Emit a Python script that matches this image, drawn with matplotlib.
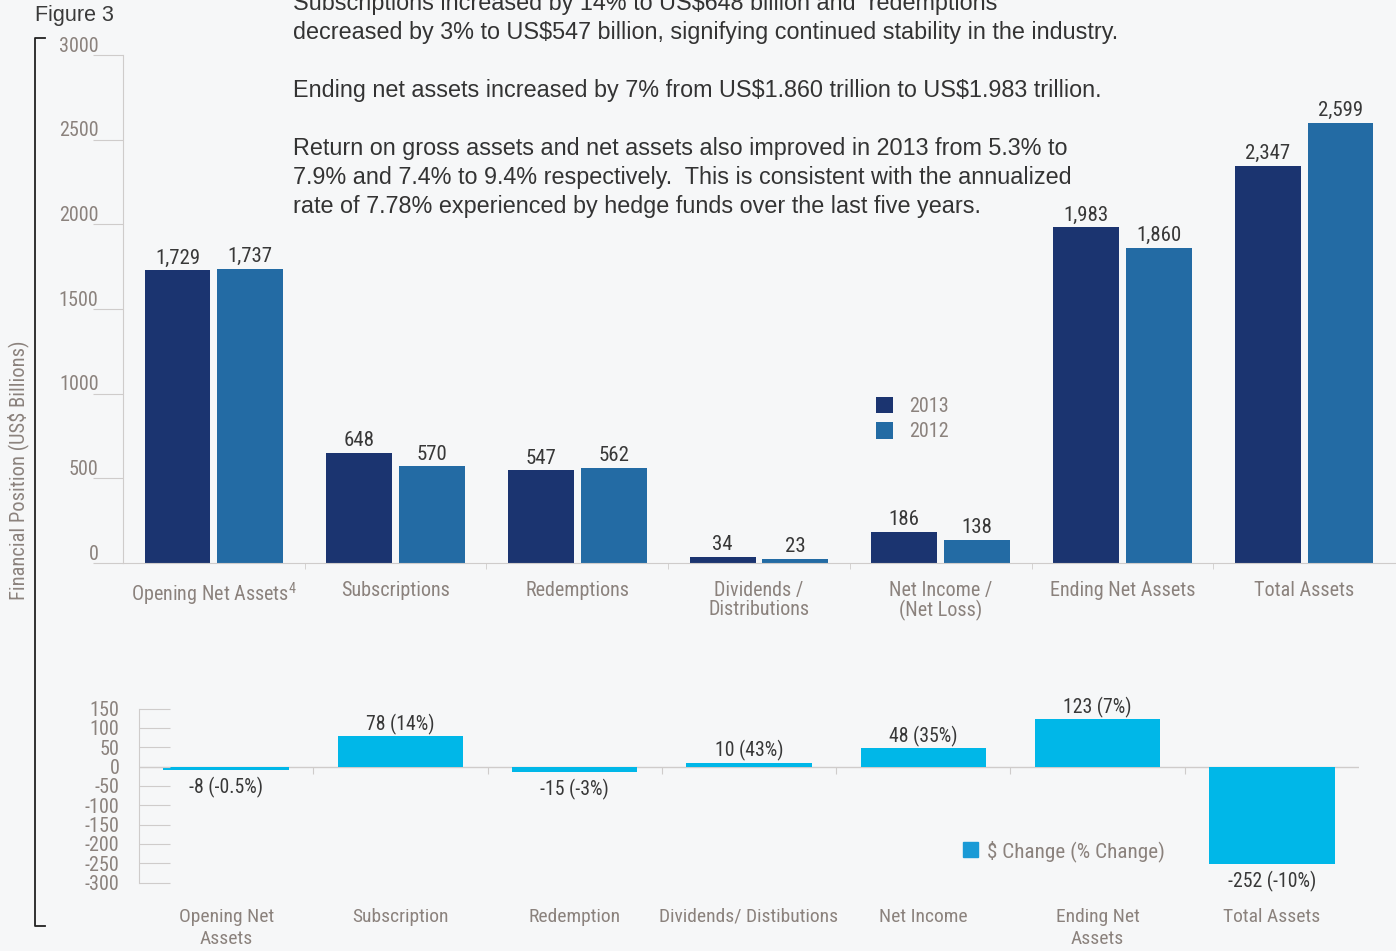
import numpy as np
import matplotlib
matplotlib.use("Agg")
import matplotlib.pyplot as plt
from matplotlib import font_manager as fm
from matplotlib.lines import Line2D
from matplotlib.patches import Patch
from matplotlib.transforms import ScaledTranslation, blended_transform_factory

# --- data -------------------------------------------------------------
cats_top = ['Opening Net Assets$^{4}$', 'Subscriptions', 'Redemptions',
            'Dividends /\nDistributions', 'Net Income /\n(Net Loss)',
            'Ending Net Assets', 'Total Assets']
v2013 = [1729, 648, 547, 34, 186, 1983, 2347]
v2012 = [1737, 570, 562, 23, 138, 1860, 2599]

cats_bot = ['Opening Net\nAssets', 'Subscription', 'Redemption',
            'Dividends/ Distibutions', 'Net Income', 'Ending Net\nAssets',
            'Total Assets']
change = [-8, 78, -15, 10, 48, 123, -252]
pct = ['-0.5%', '14%', '-3%', '43%', '35%', '7%', '-10%']

top_ticks = [0, 500, 1000, 1500, 2000, 2500, 3000]
bot_ticks = [150, 100, 50, 0, -50, -100, -150, -200, -250, -300]

notes = ["Subscriptions increased by 14% to US$648 billion and  redemptions",
         "decreased by 3% to US$547 billion, signifying continued stability in the industry.",
         "",
         "Ending net assets increased by 7% from US$1.860 trillion to US$1.983 trillion.",
         "",
         "Return on gross assets and net assets also improved in 2013 from 5.3% to",
         "7.9% and 7.4% to 9.4% respectively.  This is consistent with the annualized",
         "rate of 7.78% experienced by hedge funds over the last five years."]


# --- pick a narrow font if one is installed ---------------------------
def pick_narrow():
    fonts = fm.fontManager.ttflist
    names = {f.name for f in fonts}
    for nm in ['Roboto Condensed', 'Liberation Sans Narrow', 'Noto Sans Condensed',
               'Open Sans Condensed', 'DejaVu Sans Condensed']:
        if nm in names:
            return nm, 'normal'
    for base in ['Noto Sans', 'DejaVu Sans', 'Roboto', 'Open Sans']:
        for f in fonts:
            if f.name == base and f.stretch == 'condensed':
                return base, 'condensed'
    return 'Roboto', 'normal'


NARROW, STRETCH = pick_narrow()
plt.rcParams['font.family'] = [NARROW, 'DejaVu Sans']
plt.rcParams['font.stretch'] = STRETCH
plt.rcParams['mathtext.fontset'] = 'custom'
plt.rcParams['mathtext.rm'] = NARROW
plt.rcParams['mathtext.default'] = 'regular'
plt.rcParams['axes.unicode_minus'] = False

BG = '#f6f7f8'
DARK = '#1b3470'
MID = '#236ba4'
CYAN = '#00b7e8'
GRAY = '#8b827d'
TXT = '#383838'
GRID = '#cfcccb'

W, H = 1396, 951
fig = plt.figure(figsize=(W / 100, H / 100), dpi=100)
fig.patch.set_facecolor(BG)


def fx(px):
    return px / W


def fy(py):
    return 1 - py / H


# --- top chart --------------------------------------------------------
ax = fig.add_axes([fx(123), fy(563), fx(1395) - fx(123), fy(55) - fy(563)])
ax.set_facecolor('none')
x = np.arange(len(cats_top))
bw = 0.363
b1 = ax.bar(x - 0.2, v2013, bw, color=DARK, label='2013')
b2 = ax.bar(x + 0.2, v2012, bw, color=MID, label='2012')
for bars in (b1, b2):
    for r in bars:
        ax.annotate(f'{int(r.get_height()):,}', (r.get_x() + r.get_width() / 2, r.get_height()),
                    xytext=(0, 2), textcoords='offset points', ha='center', va='bottom',
                    fontsize=15, color=TXT)
ax.set_xlim(-0.5, len(cats_top) - 0.5)
ax.set_ylim(0, 3000)
ax.set_yticks(top_ticks)
ax.tick_params(axis='y', length=30 * 0.72, width=0.8, color=GRID, pad=-4,
               labelsize=14.5, labelcolor=GRAY)
for lab in ax.get_yticklabels():
    lab.set_transform(lab.get_transform() + ScaledTranslation(0, 0.11, fig.dpi_scale_trans))
ax.set_xticks(x)
ax.set_xticklabels(cats_top, fontsize=14.5, color=GRAY, linespacing=1.0)
ax.set_xticks(x[:-1] + 0.5, minor=True)
ax.tick_params(axis='x', which='major', length=0, pad=13)
ax.tick_params(axis='x', which='minor', length=4, color=GRID)
for s in ['top', 'right']:
    ax.spines[s].set_visible(False)
ax.spines['left'].set_color(GRID)
ax.spines['bottom'].set_color(GRID)
ax.legend(loc='upper left', bbox_to_anchor=(fx(876), fy(397)), bbox_transform=fig.transFigure,
          frameon=False, fontsize=14.5, labelcolor=GRAY, handlelength=0.85, handleheight=0.85,
          handletextpad=0.8, labelspacing=0.32, borderpad=0, borderaxespad=0)

# --- bottom chart -----------------------------------------------------
ax2 = fig.add_axes([fx(139), fy(882.7), fx(1359) - fx(139), fy(708.5) - fy(882.7)])
ax2.set_facecolor('none')
xb = np.arange(len(cats_bot))
bars = ax2.bar(xb, change, 0.72, color=CYAN)
for r, c, p in zip(bars, change, pct):
    off = 1 if c > 0 else -5
    ax2.annotate(f'{c} ({p})', (r.get_x() + r.get_width() / 2, c), xytext=(0, off),
                 textcoords='offset points', ha='center', va='bottom' if c > 0 else 'top',
                 fontsize=14.2, color=TXT)
ax2.set_xlim(-0.5, len(cats_bot) - 0.5)
ax2.set_ylim(-300, 150)
ax2.set_yticks(bot_ticks)
ax2.tick_params(axis='y', direction='in', length=31 * 0.72, width=0.8, color=GRID,
                pad=14, labelsize=14.5, labelcolor=GRAY)
ax2.axhline(0, color=GRID, lw=1, zorder=0)
for s in ['top', 'right']:
    ax2.spines[s].set_visible(False)
ax2.spines['left'].set_color(GRID)
ax2.spines['bottom'].set_position(('data', 0))
ax2.spines['bottom'].set_visible(False)
ax2.set_xticks(xb[:-1] + 0.5)
ax2.set_xticklabels([])
ax2.tick_params(axis='x', length=5, color=GRID)
tr = blended_transform_factory(ax2.transData, ax2.transAxes)
for xi, c in zip(xb, cats_bot):
    ax2.text(xi, -0.145, c, transform=tr, ha='center', va='top', fontsize=14,
             color=GRAY, linespacing=1.3)
ax2.legend(handles=[Patch(color='#1a9ad6', label='$ Change (% Change)')], loc='upper left',
           bbox_to_anchor=(fx(963), fy(840)), bbox_transform=fig.transFigure,
           frameon=False, fontsize=15.2, labelcolor=GRAY, handlelength=0.7, handleheight=0.7,
           handletextpad=0.45, borderpad=0, borderaxespad=0)

# --- decorations ------------------------------------------------------
fig.text(fx(18), fy(470), 'Financial Position (US$ Billions)', rotation=90,
         ha='center', va='center', fontsize=14.8, color=GRAY)
fig.text(fx(35), fy(15), 'Figure 3', family=['Liberation Sans', 'DejaVu Sans'],
         fontsize=15.5, color='#3a3a3a', ha='left', va='center', fontstretch='normal')
fig.add_artist(Line2D([fx(45), fx(35), fx(35), fx(45)], [fy(38), fy(38), fy(926), fy(926)],
                      color='#222222', lw=1.3))
for i, line in enumerate(notes):
    fig.text(fx(293), fy(3.5 + 29 * i), line, family=['Liberation Sans', 'DejaVu Sans'],
             fontsize=16.8, color='#333333', ha='left', va='center', parse_math=False,
             fontstretch='normal')

fig.savefig('out.png', dpi=100, facecolor=BG)
